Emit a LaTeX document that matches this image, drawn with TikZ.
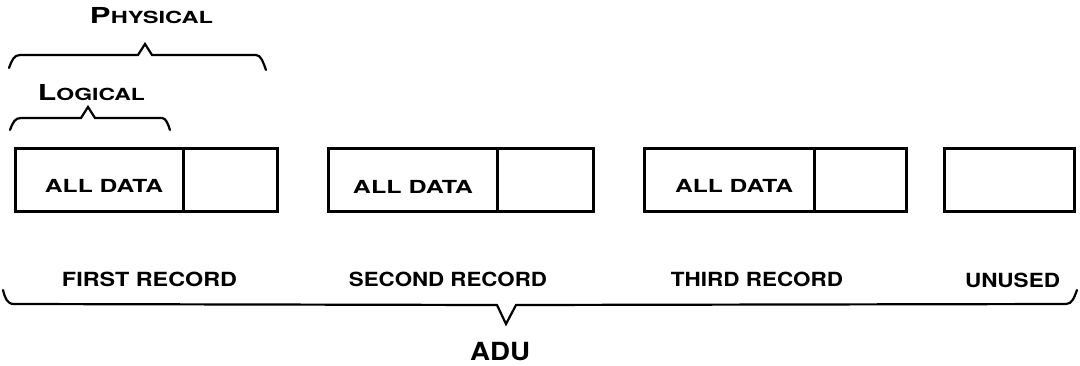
\documentclass[tikz,border=0pt]{standalone}
\usepackage{fontspec}
\usepackage{graphicx}
\setmainfont{TeX Gyre Heros}
\newcommand\fitw[2]{\resizebox{#1}{\height}{#2}}
\begin{document}
\begin{tikzpicture}[x=1pt,y=-1pt,
  boxpart/.style={draw, line width=2.6pt, inner sep=0pt, minimum height=63pt, anchor=north west},
  txt/.style={inner sep=0pt, anchor=base},
  brace/.style={draw, line width=2.2pt, line join=miter, line cap=round},
  fsmall/.style={font=\fontsize{18}{18}\selectfont\bfseries},
  flabel/.style={font=\fontsize{19.5}{20}\selectfont\bfseries},
  fbig/.style={font=\fontsize{25}{25}\selectfont\bfseries}]
\useasboundingbox (0,0) rectangle (1080,365);
% boxes
\node[boxpart, minimum width=168pt] (r1d) at (14,147) {};
\node[boxpart, minimum width=94pt] (r1s) at (182,147) {};
\node[boxpart, minimum width=169pt] (r2d) at (327,147) {};
\node[boxpart, minimum width=96pt] (r2s) at (496,147) {};
\node[boxpart, minimum width=170pt] (r3d) at (643,147) {};
\node[boxpart, minimum width=92pt] (r3s) at (813,147) {};
\node[boxpart, minimum width=130pt] (r4) at (943,147) {};
% box texts
\node[txt, fsmall] (t1) at (104,192) {\fitw{118pt}{ALL DATA}};
\node[txt, fsmall] (t2) at (413,193) {\fitw{120pt}{ALL DATA}};
\node[txt, fsmall] (t3) at (734,192) {\fitw{118pt}{ALL DATA}};
% record labels
\node[txt, flabel] (l1) at (149.5,286) {\fitw{175pt}{FIRST RECORD}};
\node[txt, flabel] (l2) at (448,286) {\fitw{198pt}{SECOND RECORD}};
\node[txt, flabel] (l3) at (757,286) {\fitw{172pt}{THIRD RECORD}};
\node[txt, flabel] (l4) at (1012.5,287) {\fitw{95pt}{UNUSED}};
\node[txt, fbig] (adu) at (500,360) {\fitw{60pt}{ADU}};
% top labels
\node[txt] (phys) at (151.5,23) {\fitw{123pt}{\bfseries\fontsize{22}{22}\selectfont P\fontsize{16.7}{17}\selectfont HYSICAL}};
\node[txt] (logi) at (91.5,100) {\fitw{107pt}{\bfseries\fontsize{22}{22}\selectfont L\fontsize{16.7}{17}\selectfont OGICAL}};
% braces
\draw[brace] (9,68) .. controls (12,60) and (14,55) .. (20,55) -- (138,55) -- (145,44) -- (152,55) -- (256,55) .. controls (261,55) and (263,62) .. (266,70);
\draw[brace] (10,130) .. controls (13,122) and (15,118) .. (21,118) -- (81,118) -- (88,107) -- (95,118) -- (162,118) .. controls (166,118) and (168,124) .. (170,130);
\draw[brace] (3,290) .. controls (5,298) and (7,304) .. (14,304) -- (497,305) -- (506,324) -- (516,305) -- (1066,304) .. controls (1072,304) and (1074,298) .. (1077,290);
\end{tikzpicture}
\end{document}
